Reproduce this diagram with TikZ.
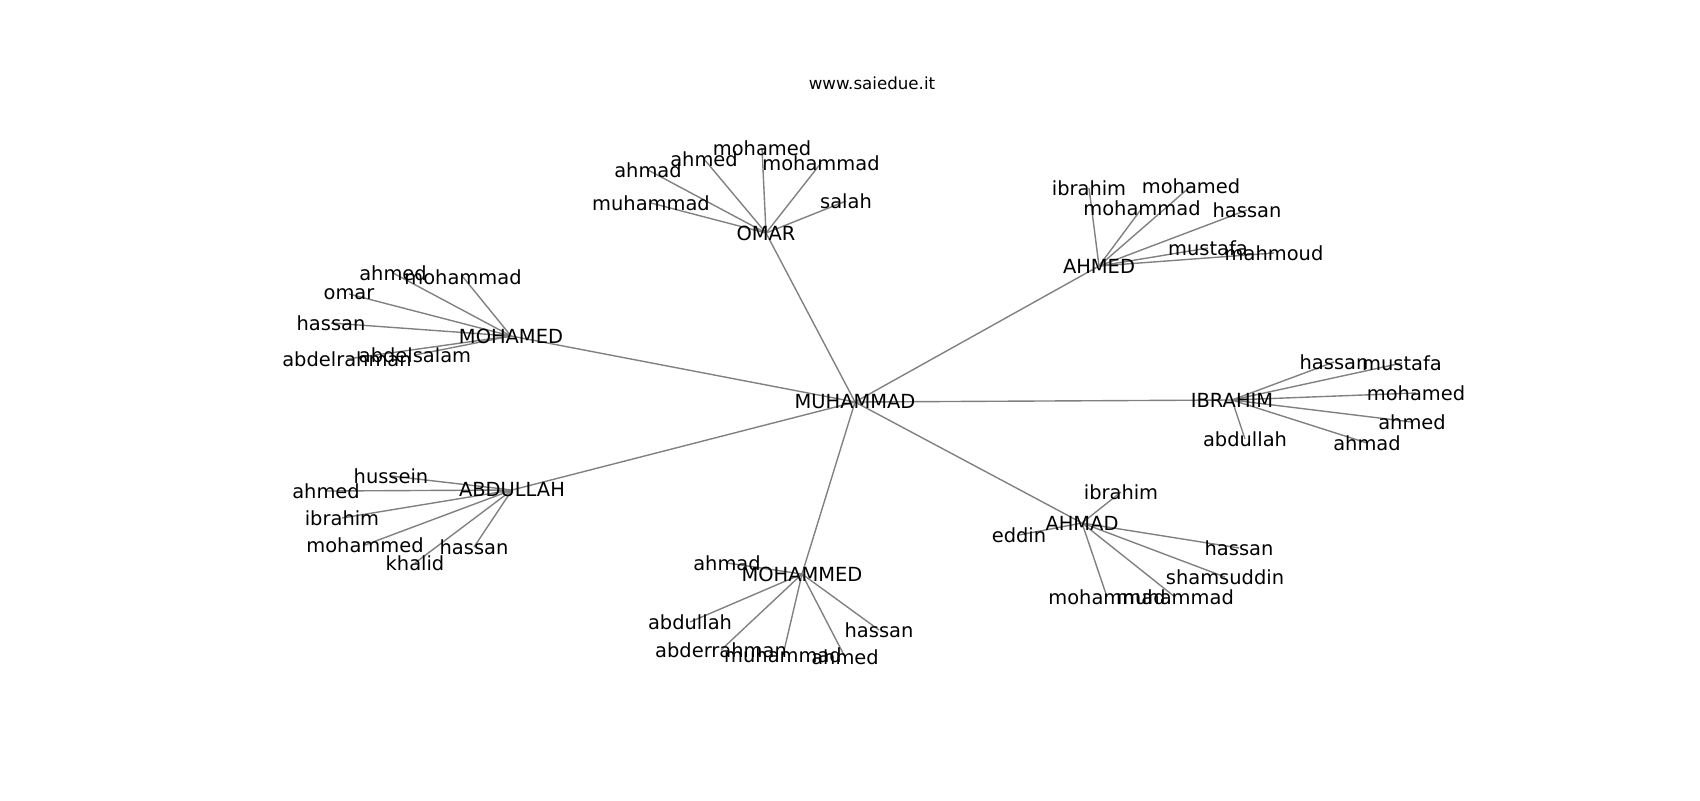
\documentclass[tikz,border=0pt]{standalone}
\usepackage{fontspec}
\setmainfont{DejaVu Sans}
\usepackage{xcolor}
\usetikzlibrary{backgrounds}
\definecolor{EdgeGray}{HTML}{808080}

\begin{document}
\begin{tikzpicture}[x=0.72pt, y=-0.72pt,
                    every node/.style={inner sep=0pt, anchor=center,
                                       font=\fontsize{14}{17}\selectfont},
                    edge/.style={draw=EdgeGray, line width=1pt}]
\useasboundingbox (0,0) rectangle (1700,800);
\node[font=\fontsize{12}{14}\selectfont] (title) at (872,83) {www.saiedue.it};
% root and hubs
\node (MUHAMMAD) at (855,402) {MUHAMMAD};
\node (OMAR) at (766,233) {OMAR};
\node (AHMED) at (1099,266) {AHMED};
\node (MOHAMED) at (511,336) {MOHAMED};
\node (IBRAHIM) at (1232,400) {IBRAHIM};
\node (AHMAD) at (1082,523) {AHMAD};
\node (MOHAMMED) at (802,574) {MOHAMMED};
\node (ABDULLAH) at (512,490) {ABDULLAH};
% OMAR
\node (om-muhammad) at (651,203) {muhammad};
\node (om-ahmad) at (648,170) {ahmad};
\node (om-ahmed) at (704,159) {ahmed};
\node (om-mohamed) at (762,148) {mohamed};
\node (om-mohammad) at (821,163) {mohammad};
\node (om-salah) at (846,201) {salah};
% AHMED
\node (ae-ibrahim) at (1089,188) {ibrahim};
\node (ae-mohamed) at (1191,186) {mohamed};
\node (ae-mohammad) at (1142,208) {mohammad};
\node (ae-hassan) at (1247,210) {hassan};
\node (ae-mahmoud) at (1274,253) {mahmoud};
\node (ae-mustafa) at (1208,248) {mustafa};
% MOHAMED
\node (md-ahmed) at (393,273) {ahmed};
\node (md-mohammad) at (463,277) {mohammad};
\node (md-omar) at (349,294) {omar};
\node (md-hassan) at (331,323) {hassan};
\node (md-abdelrahman) at (347,359) {abdelrahman};
\node (md-abdelsalam) at (415,355) {abdelsalam};
% IBRAHIM
\node (ib-hassan) at (1334,362) {hassan};
\node (ib-mustafa) at (1402,363) {mustafa};
\node (ib-mohamed) at (1416,393) {mohamed};
\node (ib-ahmed) at (1412,422) {ahmed};
\node (ib-ahmad) at (1367,443) {ahmad};
\node (ib-abdullah) at (1245,439) {abdullah};
% AHMAD
\node (ad-ibrahim) at (1121,492) {ibrahim};
\node (ad-eddin) at (1019,535) {eddin};
\node (ad-hassan) at (1239,548) {hassan};
\node (ad-shamsuddin) at (1225,577) {shamsuddin};
\node (ad-mohammad) at (1107,597) {mohammad};
\node (ad-muhammad) at (1175,597) {muhammad};
% MOHAMMED
\node (me-ahmad) at (727,563) {ahmad};
\node (me-abdullah) at (690,622) {abdullah};
\node (me-hassan) at (879,630) {hassan};
\node (me-abderrahman) at (721,650) {abderrahman};
\node (me-muhammad) at (783,655) {muhammad};
\node (me-ahmed) at (845,657) {ahmed};
% ABDULLAH
\node (ab-hussein) at (391,476) {hussein};
\node (ab-ahmed) at (326,491) {ahmed};
\node (ab-ibrahim) at (342,518) {ibrahim};
\node (ab-mohammed) at (365,545) {mohammed};
\node (ab-hassan) at (474,547) {hassan};
\node (ab-khalid) at (415,563) {khalid};
\begin{pgfonlayer}{background}
\draw[edge] (MUHAMMAD.center) -- (OMAR.center);
\draw[edge] (MUHAMMAD.center) -- (AHMED.center);
\draw[edge] (MUHAMMAD.center) -- (MOHAMED.center);
\draw[edge] (MUHAMMAD.center) -- (IBRAHIM.center);
\draw[edge] (MUHAMMAD.center) -- (AHMAD.center);
\draw[edge] (MUHAMMAD.center) -- (MOHAMMED.center);
\draw[edge] (MUHAMMAD.center) -- (ABDULLAH.center);
\draw[edge] (OMAR.center) -- (om-muhammad.center);
\draw[edge] (OMAR.center) -- (om-ahmad.center);
\draw[edge] (OMAR.center) -- (om-ahmed.center);
\draw[edge] (OMAR.center) -- (om-mohamed.center);
\draw[edge] (OMAR.center) -- (om-mohammad.center);
\draw[edge] (OMAR.center) -- (om-salah.center);
\draw[edge] (AHMED.center) -- (ae-ibrahim.center);
\draw[edge] (AHMED.center) -- (ae-mohamed.center);
\draw[edge] (AHMED.center) -- (ae-mohammad.center);
\draw[edge] (AHMED.center) -- (ae-hassan.center);
\draw[edge] (AHMED.center) -- (ae-mahmoud.center);
\draw[edge] (AHMED.center) -- (ae-mustafa.center);
\draw[edge] (MOHAMED.center) -- (md-ahmed.center);
\draw[edge] (MOHAMED.center) -- (md-mohammad.center);
\draw[edge] (MOHAMED.center) -- (md-omar.center);
\draw[edge] (MOHAMED.center) -- (md-hassan.center);
\draw[edge] (MOHAMED.center) -- (md-abdelrahman.center);
\draw[edge] (MOHAMED.center) -- (md-abdelsalam.center);
\draw[edge] (IBRAHIM.center) -- (ib-hassan.center);
\draw[edge] (IBRAHIM.center) -- (ib-mustafa.center);
\draw[edge] (IBRAHIM.center) -- (ib-mohamed.center);
\draw[edge] (IBRAHIM.center) -- (ib-ahmed.center);
\draw[edge] (IBRAHIM.center) -- (ib-ahmad.center);
\draw[edge] (IBRAHIM.center) -- (ib-abdullah.center);
\draw[edge] (AHMAD.center) -- (ad-ibrahim.center);
\draw[edge] (AHMAD.center) -- (ad-eddin.center);
\draw[edge] (AHMAD.center) -- (ad-hassan.center);
\draw[edge] (AHMAD.center) -- (ad-shamsuddin.center);
\draw[edge] (AHMAD.center) -- (ad-mohammad.center);
\draw[edge] (AHMAD.center) -- (ad-muhammad.center);
\draw[edge] (MOHAMMED.center) -- (me-ahmad.center);
\draw[edge] (MOHAMMED.center) -- (me-abdullah.center);
\draw[edge] (MOHAMMED.center) -- (me-hassan.center);
\draw[edge] (MOHAMMED.center) -- (me-abderrahman.center);
\draw[edge] (MOHAMMED.center) -- (me-muhammad.center);
\draw[edge] (MOHAMMED.center) -- (me-ahmed.center);
\draw[edge] (ABDULLAH.center) -- (ab-hussein.center);
\draw[edge] (ABDULLAH.center) -- (ab-ahmed.center);
\draw[edge] (ABDULLAH.center) -- (ab-ibrahim.center);
\draw[edge] (ABDULLAH.center) -- (ab-mohammed.center);
\draw[edge] (ABDULLAH.center) -- (ab-hassan.center);
\draw[edge] (ABDULLAH.center) -- (ab-khalid.center);
\end{pgfonlayer}
\end{tikzpicture}
\end{document}
